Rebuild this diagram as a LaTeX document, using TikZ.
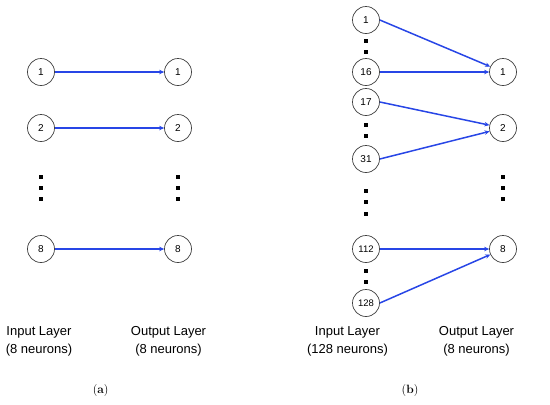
\documentclass[tikz,border=0pt]{standalone}
\usepackage{fontspec}
\setsansfont{Liberation Sans}
\usetikzlibrary{arrows.meta}
\definecolor{linkblue}{RGB}{40,70,230}
\tikzset{
  neuron/.style={draw=black!75, line width=0.7pt, circle, minimum size=27pt, inner sep=0pt, font=\sffamily\fontsize{10}{12}\selectfont},
  bigneuron/.style={neuron, font=\sffamily\fontsize{9.5}{11}\selectfont},
  link/.style={draw=linkblue, line width=1.5pt, -{Stealth[length=5pt,width=4.5pt]}},
  layertext/.style={align=center, font=\sffamily\fontsize{13}{18}\selectfont},
  subcap/.style={font=\fontsize{12}{14}\selectfont}
}
\newcommand{\vdot}[2]{\fill (#1-2, #2-2) rectangle (#1+2, #2+2);}

\begin{document}
\begin{tikzpicture}[x=1pt, y=-1pt]
			%%%%% START %%%%%
			\useasboundingbox (0, 0) rectangle (550, 405);
			
			% (a)
			\node[neuron] (ain1) at (41, 72) {1};
			\node[neuron] (ain2) at (41, 128) {2};
			\node[neuron] (ain8) at (41, 249) {8};
			\node[neuron] (aout1) at (178, 72) {1};
			\node[neuron] (aout2) at (178, 128) {2};
			\node[neuron] (aout8) at (178, 249) {8};
			
			\foreach \y in {176.7, 187.8, 199} {
				\vdot{41}{\y}
				\vdot{178}{\y}
			}
			
			\draw[link] (ain1) -- (aout1);
			\draw[link] (ain2) -- (aout2);
			\draw[link] (ain8) -- (aout8);
			
			\node[layertext] (ainlabel) at (39, 341) {Input Layer\\(8 neurons)};
			\node[layertext] (aoutlabel) at (168.5, 341) {Output Layer\\(8 neurons)};
			\node[subcap] (acap) at (100.7, 390.7) {(\textbf{a})};
			
			% (b)
			\node[neuron] (bin1) at (366, 20) {1};
			\node[neuron] (bin16) at (366, 72) {16};
			\node[neuron] (bin17) at (366, 102) {17};
			\node[neuron] (bin31) at (366, 159) {31};
			\node[bigneuron] (bin112) at (366, 249) {112};
			\node[bigneuron] (bin128) at (366, 303) {128};
			\node[neuron] (bout1) at (503, 72) {1};
			\node[neuron] (bout2) at (503, 128) {2};
			\node[neuron] (bout8) at (503, 249) {8};
			
			\foreach \y in {41, 51.7, 125, 136, 191, 202.3, 213.7, 270.7, 282} {
				\vdot{366}{\y}
			}
			\foreach \y in {176.7, 187.8, 199.3} {
				\vdot{503}{\y}
			}
			
			\draw[link] (bin1.east) -- (bout1);
			\draw[link] (bin16.east) -- (bout1);
			\draw[link] (bin17.east) -- (bout2);
			\draw[link] (bin31.east) -- (bout2);
			\draw[link] (bin112.east) -- (bout8);
			\draw[link] (bin128.east) -- (bout8);
			
			\node[layertext] (binlabel) at (347.5, 341) {Input Layer\\(128 neurons)};
			\node[layertext] (boutlabel) at (476.5, 341) {Output Layer\\(8 neurons)};
			\node[subcap] (bcap) at (410, 390.7) {(\textbf{b})};
			
			%%%%% END %%%%%
\end{tikzpicture}
\end{document}
